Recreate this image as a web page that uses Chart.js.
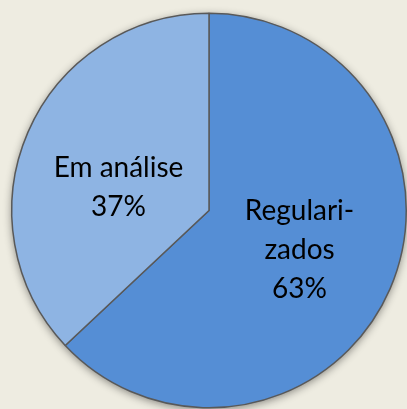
<!DOCTYPE html>
<html>
<head>
<meta charset="utf-8">
<script src="https://cdn.jsdelivr.net/npm/chart.js@4/dist/chart.umd.min.js"></script>
<style>
  html, body { margin: 0; padding: 0; background: #eeece1; }
  #wrap { width: 407px; height: 409px; }
</style>
</head>
<body>
<div id="wrap"><canvas id="pie"></canvas></div>
<script>
// dados do gráfico
const categories = ['Regulari-\nzados', 'Em análise'];
const values = [63, 37];
const colors = ['#558ed5', '#8eb4e3'];

// sombra suave por trás da pizza
const shadowPlugin = {
  id: 'shadow',
  beforeDatasetsDraw(chart) {
    const arc = chart.getDatasetMeta(0).data[0];
    if (!arc) return;
    const { x, y, outerRadius } = arc.getProps(['x', 'y', 'outerRadius'], true);
    const ctx = chart.ctx;
    ctx.save();
    ctx.shadowColor = 'rgba(0,0,0,0.45)';
    ctx.shadowBlur = 9;
    ctx.shadowOffsetY = 2;
    ctx.beginPath();
    ctx.arc(x, y, outerRadius, 0, Math.PI * 2);
    ctx.fillStyle = '#8eb4e3';
    ctx.fill();
    ctx.restore();
  }
};

// rótulos dentro das fatias
const labelPlugin = {
  id: 'sliceLabels',
  afterDatasetsDraw(chart, args, opts) {
    const ctx = chart.ctx;
    const meta = chart.getDatasetMeta(0);
    ctx.save();
    ctx.font = opts.font;
    ctx.fillStyle = '#000';
    ctx.textAlign = 'center';
    ctx.textBaseline = 'middle';
    meta.data.forEach((arc, i) => {
      const pos = arc.tooltipPosition(true);
      const lines = categories[i].split('\n').concat(values[i] + '%');
      const dy = (opts.shiftY && opts.shiftY[i]) || 0;
      const h = opts.lineHeight;
      const top = pos.y + dy - (lines.length - 1) * h / 2;
      lines.forEach((t, k) => ctx.fillText(t, pos.x, top + k * h));
    });
    ctx.restore();
  }
};

new Chart(document.getElementById('pie'), {
  type: 'pie',
  data: {
    labels: categories,
    datasets: [{
      data: values,
      backgroundColor: colors,
      borderColor: '#595959',
      borderWidth: 1.5,
      hoverOffset: 0
    }]
  },
  options: {
    responsive: true,
    maintainAspectRatio: false,
    animation: false,
    layout: { padding: { left: 11, top: 12, right: 0, bottom: 0 } },
    plugins: {
      legend: { display: false },
      tooltip: { enabled: false },
      sliceLabels: { font: '28px Lato', lineHeight: 39, shiftY: [0, 16] }
    }
  },
  plugins: [shadowPlugin, labelPlugin]
});
</script>
</body>
</html>
